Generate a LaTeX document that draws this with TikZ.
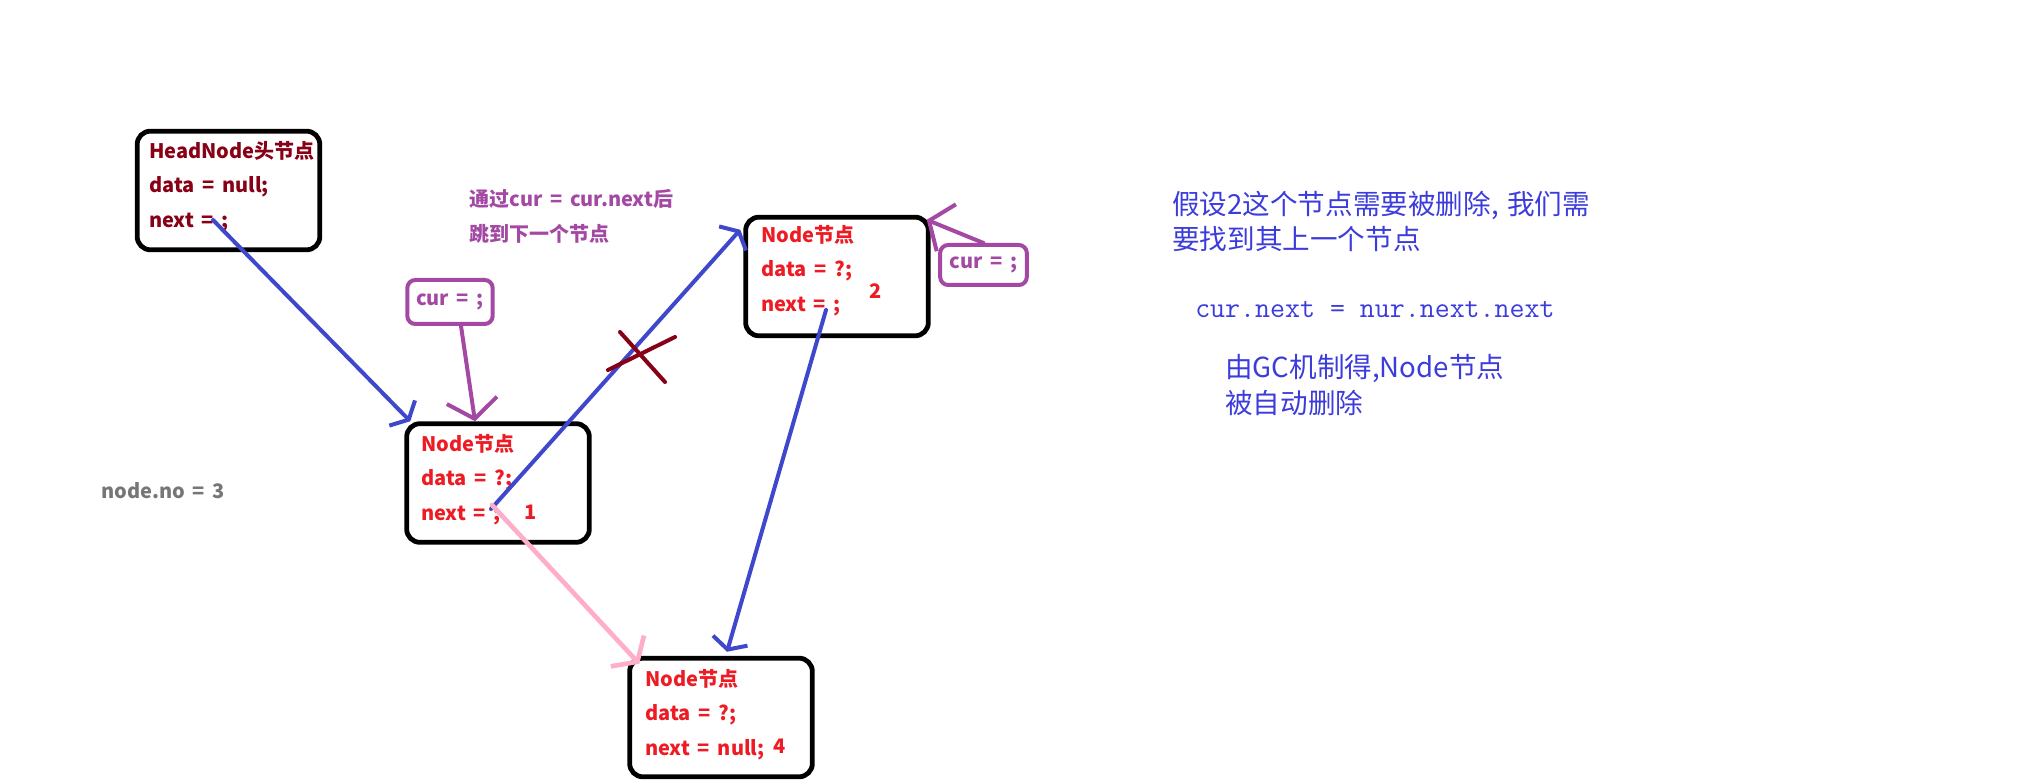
\documentclass[tikz,border=0pt]{standalone}
\usepackage{fontspec}
\setmainfont{Noto Sans CJK SC}[WordSpace=1.7]
\usepackage{tikz}
\usetikzlibrary{arrows.meta,calc}

\definecolor{headred}{RGB}{136,0,21}
\definecolor{nodered}{RGB}{237,28,36}
\definecolor{curpurple}{RGB}{163,73,164}
\definecolor{ptrblue}{RGB}{63,72,204}
\definecolor{noteblue}{RGB}{60,60,220}
\definecolor{cutpink}{RGB}{255,174,201}
\definecolor{nogray}{RGB}{118,118,118}

\begin{document}
\begin{tikzpicture}[x=0.75pt,y=0.75pt,yscale=-1,xscale=1,
  box/.style={draw=black,line width=3.6pt,rounded corners=10pt,minimum width=137pt,minimum height=89pt,inner sep=0pt},
  curbox/.style={draw=curpurple,line width=3pt,rounded corners=6pt,inner sep=0pt,text=curpurple,font=\fontsize{15}{18}\selectfont\bfseries},
  headtxt/.style={anchor=base west,inner sep=0pt,text=headred,font=\fontsize{15}{18}\selectfont\bfseries},
  nodetxt/.style={anchor=base west,inner sep=0pt,text=nodered,font=\fontsize{15}{18}\selectfont\bfseries},
  curtxt/.style={anchor=base west,inner sep=0pt,text=curpurple,font=\fontsize{15}{18}\selectfont\bfseries},
  notetxt/.style={anchor=base west,inner sep=0pt,text=noteblue,font=\fontsize{20.7}{24}\selectfont},
  ptr/.style={draw=ptrblue,line width=3pt,line cap=round,-{Straight Barb[length=7pt,width=27pt]}},
  newptr/.style={draw=cutpink,line width=3.5pt,line cap=round,-{Straight Barb[length=11pt,width=34pt]}},
  curptr/.style={draw=curpurple,line width=3pt,line cap=round,-{Straight Barb[length=14pt,width=38pt]}},
  cutmark/.style={draw=headred,line width=3pt,line cap=round}
]
\useasboundingbox (0,0) rectangle (2036,784);

%Shape: Rounded Rect [id:head]
\node [box] (head) at (228.5,190.5) {};
%Shape: Rounded Rect [id:n1]
\node [box] (n1) at (498,483) {};
%Shape: Rounded Rect [id:n2]
\node [box] (n2) at (837,276.5) {};
%Shape: Rounded Rect [id:n4]
\node [box] (n4) at (721,717.5) {};
%Shape: Rounded Rect [id:cur1]
\node [curbox,minimum width=64pt,minimum height=33pt] (cur1) at (450,302) {cur = ;};
%Shape: Rounded Rect [id:cur2]
\node [curbox,minimum width=65pt,minimum height=30pt] (cur2) at (983.5,265) {cur = ;};

% Text Node
\draw (149,159) node [headtxt] (hd1) {HeadNode头节点};
% Text Node
\draw (149,193) node [headtxt] (hd2) {data = null;};
% Text Node
\draw (149,228) node [headtxt] (hd3) {next = ;};
% Text Node
\draw (421,451) node [nodetxt] (a1) {Node节点};
% Text Node
\draw (421,485) node [nodetxt] (a2) {data = ?;};
% Text Node
\draw (421,520) node [nodetxt] (a3) {next = ;};
% Text Node
\draw (524,519) node [nodetxt] (no1) {1};
% Text Node
\draw (761,243) node [nodetxt] (b1) {Node节点};
% Text Node
\draw (761,277) node [nodetxt] (b2) {data = ?;};
% Text Node
\draw (761,312) node [nodetxt] (b3) {next = ;};
% Text Node
\draw (869,299) node [nodetxt] (no2) {2};
% Text Node
\draw (645,686) node [nodetxt] (c1) {Node节点};
% Text Node
\draw (645,720) node [nodetxt] (c2) {data = ?;};
% Text Node
\draw (645,755) node [nodetxt] (c3) {next = null;};
% Text Node
\draw (773,753) node [nodetxt] (no4) {4};
% Text Node
\draw (469,207) node [curtxt] (jump1) {通过cur = cur.next后};
% Text Node
\draw (469,242) node [curtxt] (jump2) {跳到下一个节点};
% Text Node
\draw (101,498) node [curtxt,text=nogray] (count) {node.no = 3};
% Text Node
\draw (1172,215) node [notetxt] (del1) {假设2这个节点需要被删除,\hspace{0.3em}我们需};
% Text Node
\draw (1172,250) node [notetxt] (del2) {要找到其上一个节点};
% Text Node
\draw (1195,318) node [notetxt,font=\fontsize{21.8}{24}\ttfamily] (del3) {cur.next = nur.next.next};
% Text Node
\draw (1225,378) node [notetxt] (gc1) {由GC机制得,Node节点};
% Text Node
\draw (1225,413) node [notetxt] (gc2) {被自动删除};

% pointer starts
\coordinate (headnext) at (213,220);
\coordinate (n1next) at (491,509);
\coordinate (n2next) at (826,310);

%Straight Lines [id:head-n1]
\draw [ptr] (headnext) -- ($(n1.north west)+(6,0)$);
%Straight Lines [id:n1-n2]
\draw [ptr] (n1next) -- ($(n2.north west)+(-3,15)$);
%Straight Lines [id:n2-n4]
\draw [ptr] (n2next) -- ($(n4.north)+(6,-4)$);
%Straight Lines [id:n1-n4]
\draw [newptr] ($(n1next)+(1,-4)$) -- ($(n4.north west)+(12,8)$);
%Straight Lines [id:cur1-n1]
\draw [curptr] ($(cur1.south)+(11,0)$) -- ($(n1.north)+(-23,0)$);
%Straight Lines [id:cur2-n2]
\draw [curptr] (cur2.north) -- ($(n2.north east)+(-4,5)$);
%Straight Lines [id:cut]
\draw [cutmark] (620,332) -- (665,382);
\draw [cutmark] (608,370) -- (675,337);

\end{tikzpicture}
\end{document}
